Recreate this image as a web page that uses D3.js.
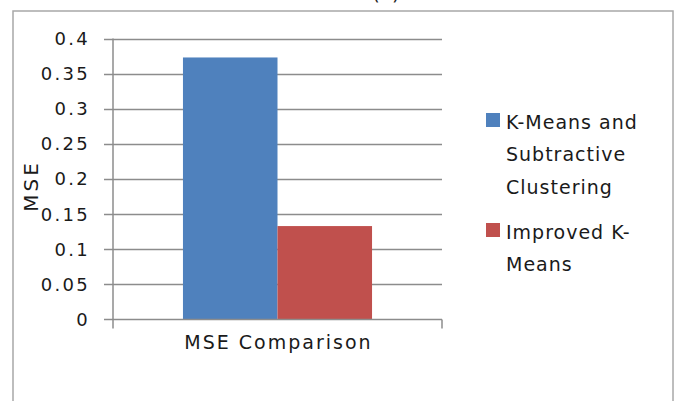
<!DOCTYPE html>
<html><head><meta charset="utf-8">
<script src="https://cdn.jsdelivr.net/npm/d3@7"></script>
<style>
html,body{margin:0;padding:0;background:#fff;}
svg{display:block;font-family:"DejaVu Sans",sans-serif;}
</style></head>
<body>
<script>
const categories = ["MSE Comparison"];
const seriesNames = ["K-Means and Subtractive Clustering", "Improved K-Means"];
const legendLines = [["K-Means and", "Subtractive", "Clustering"], ["Improved K-", "Means"]];
const seriesValues = [[0.373], [0.133]];
const yTicks = [0, 0.05, 0.1, 0.15, 0.2, 0.25, 0.3, 0.35, 0.4];
const yTickLabels = ["0", "0.05", "0.1", "0.15", "0.2", "0.25", "0.3", "0.35", "0.4"];
const colors = ["#4f81bd", "#c0504d"];

const W = 678, H = 401;
const svg = d3.select("body").append("svg").attr("width", W).attr("height", H);

// title (mostly cropped)
svg.append("text").attr("x", 386).attr("y", 0).attr("text-anchor", "middle")
  .attr("font-size", 20).attr("fill", "#222").text("(a)");

// outer frame
svg.append("rect").attr("x", 13).attr("y", 11).attr("width", 660).attr("height", 420)
  .attr("fill", "none").attr("stroke", "#a8a8a8").attr("stroke-width", 1.5);

const plot = {left: 113, right: 442, top: 38.5, bottom: 319.5};
const y = d3.scaleLinear().domain([0, 0.4]).range([plot.bottom, plot.top]);
const x0 = d3.scaleBand().domain(categories).range([plot.left, plot.right]).paddingInner(0).paddingOuter(0.37);
const x1 = d3.scaleBand().domain(d3.range(seriesNames.length)).range([0, x0.bandwidth()]);

// gridlines + ticks
const g = svg.append("g");
g.selectAll("line.grid").data(yTicks.slice(1)).join("line")
  .attr("x1", plot.left - 9).attr("x2", plot.right)
  .attr("y1", d => Math.round(y(d)) + 0.5).attr("y2", d => Math.round(y(d)) + 0.5)
  .attr("stroke", "#8c8c8c").attr("stroke-width", 1.5);

// bars
categories.forEach((c, ci) => {
  seriesValues.forEach((vals, si) => {
    svg.append("rect")
      .attr("x", x0(c) + x1(si)).attr("width", x1.bandwidth())
      .attr("y", y(vals[ci])).attr("height", y(0) - y(vals[ci]))
      .attr("fill", colors[si]);
  });
});

// axes lines
svg.append("line").attr("x1", plot.left).attr("x2", plot.left).attr("y1", plot.top).attr("y2", plot.bottom)
  .attr("stroke", "#8c8c8c").attr("stroke-width", 1.5);
svg.append("line").attr("x1", plot.left - 9).attr("x2", plot.right).attr("y1", y(0)).attr("y2", y(0))
  .attr("stroke", "#8c8c8c").attr("stroke-width", 1.5);
[plot.left, plot.right].forEach(xx => {
  svg.append("line").attr("x1", xx).attr("x2", xx).attr("y1", y(0)).attr("y2", y(0) + 9)
    .attr("stroke", "#8c8c8c").attr("stroke-width", 1.5);
});

// y tick labels
svg.selectAll("text.ytick").data(yTicks).join("text")
  .attr("class", "ytick")
  .attr("x", 90).attr("y", d => y(d)).attr("dy", "0.36em")
  .attr("text-anchor", "end").attr("font-size", 18).attr("letter-spacing", 2.3)
  .attr("fill", "#1a1a1a").text((d, i) => yTickLabels[i]);

// x category label
svg.selectAll("text.xcat").data(categories).join("text")
  .attr("x", d => x0(d) + x0.bandwidth() / 2 + 1).attr("y", 348.5)
  .attr("text-anchor", "middle").attr("font-size", 19).attr("letter-spacing", 2)
  .attr("fill", "#1a1a1a").text(d => d);

// y title
svg.append("text").attr("transform", "translate(37.5,186) rotate(-90)")
  .attr("text-anchor", "middle").attr("font-size", 20).attr("letter-spacing", 3)
  .attr("fill", "#1a1a1a").text("MSE");

// legend
const legendTops = [113, 223];
const legendBase = [129, 239];
seriesNames.forEach((s, i) => {
  svg.append("rect").attr("x", 486).attr("y", legendTops[i]).attr("width", 14).attr("height", 14)
    .attr("fill", colors[i]);
  legendLines[i].forEach((ln, j) => {
    svg.append("text").attr("x", 506).attr("y", legendBase[i] + j * 32.3)
      .attr("font-size", 19).attr("letter-spacing", 1)
      .attr("fill", "#1a1a1a").text(ln);
  });
});
</script>
</body></html>
